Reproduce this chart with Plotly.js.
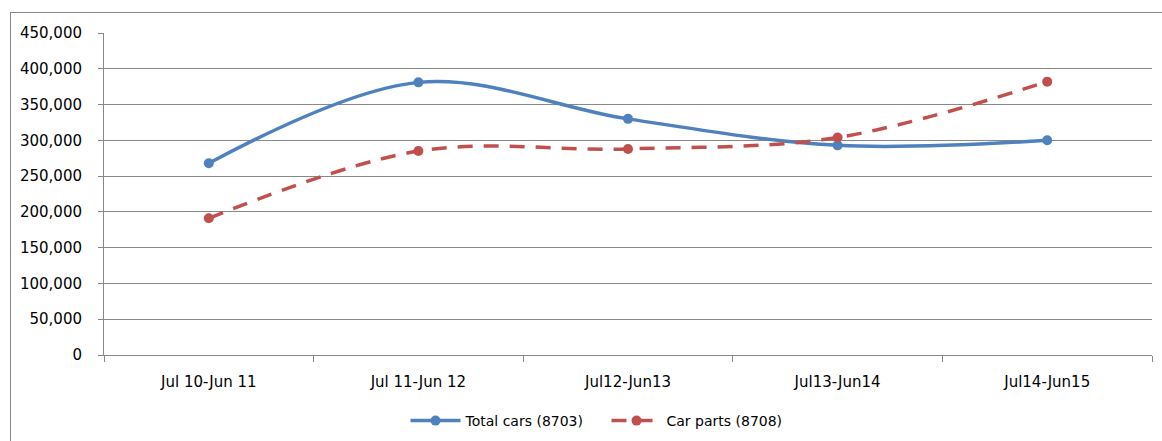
<!DOCTYPE html>
<html>
<head>
<meta charset="utf-8">
<script src="https://cdn.plot.ly/plotly-3.0.1.min.js"></script>
<style>
  html, body { margin: 0; padding: 0; background: #fff; }
  #wrap { position: relative; width: 1162px; height: 441px; overflow: hidden; }
  #chart { position: absolute; left: 0; top: 0; width: 1162px; height: 441px; }
  #frame { position: absolute; left: 10px; top: 12px; width: 1200px; height: 500px;
           border-left: 1px solid #888888; border-top: 1px solid #888888; pointer-events: none; }
</style>
</head>
<body>
<div id="wrap">
  <div id="chart"></div>
  <div id="frame"></div>
</div>
<script>
const categories = ["Jul 10-Jun 11", "Jul 11-Jun 12", "Jul12-Jun13", "Jul13-Jun14", "Jul14-Jun15"];
const totalCars = [268000, 381000, 330000, 293000, 300000];
const carParts = [191000, 285000, 288000, 304000, 382000];
const seriesNames = ["Total cars (8703)", "Car parts (8708)"];
const yTickVals = [0, 50000, 100000, 150000, 200000, 250000, 300000, 350000, 400000, 450000];
const yTickText = ["0", "50,000", "100,000", "150,000", "200,000", "250,000", "300,000", "350,000", "400,000", "450,000"];

const fontFamily = "DejaVu Sans, sans-serif";

const traces = [
  {
    x: categories, y: totalCars, name: seriesNames[0], type: "scatter", mode: "lines+markers",
    line: { color: "#4F81BD", width: 3.5, shape: "spline", smoothing: 1 },
    marker: { color: "#4F81BD", size: 10, symbol: "circle" }
  },
  {
    x: categories, y: carParts, name: seriesNames[1], type: "scatter", mode: "lines+markers",
    line: { color: "#C0504D", width: 3.5, shape: "spline", smoothing: 1, dash: "15px,11px" },
    marker: { color: "#C0504D", size: 10, symbol: "circle" }
  }
];

const layout = {
  width: 1162, height: 441,
  margin: { l: 104, r: 10, t: 33, b: 86, autoexpand: false },
  paper_bgcolor: "rgba(0,0,0,0)", plot_bgcolor: "#fff",
  font: { family: fontFamily, size: 15, color: "#000" },
  showlegend: true,
  legend: {
    orientation: "h", x: 0.4795, xanchor: "center", y: -0.205, yanchor: "middle",
    font: { family: fontFamily, size: 14, color: "#000" },
    itemwidth: 50, entrywidth: 136, bgcolor: "rgba(0,0,0,0)"
  },
  xaxis: {
    type: "category", range: [-0.5, 4.5], tickson: "boundaries",
    ticks: "outside", ticklen: 6, tickcolor: "#888888", tickwidth: 1,
    showline: true, linecolor: "#888888", linewidth: 1,
    showgrid: false, zeroline: false, ticklabelstandoff: 13,
    tickfont: { family: fontFamily, size: 15, color: "#000" }
  },
  yaxis: {
    range: [0, 450000], tickvals: yTickVals, ticktext: yTickText,
    ticks: "outside", ticklen: 5, tickcolor: "#888888", tickwidth: 1,
    showline: true, linecolor: "#888888", linewidth: 1,
    showgrid: true, gridcolor: "#888888", gridwidth: 1, zeroline: false,
    ticklabelstandoff: 13,
    tickfont: { family: fontFamily, size: 15, color: "#000" }
  }
};

Plotly.newPlot("chart", traces, layout, { displayModeBar: false, staticPlot: true });
</script>
</body>
</html>
